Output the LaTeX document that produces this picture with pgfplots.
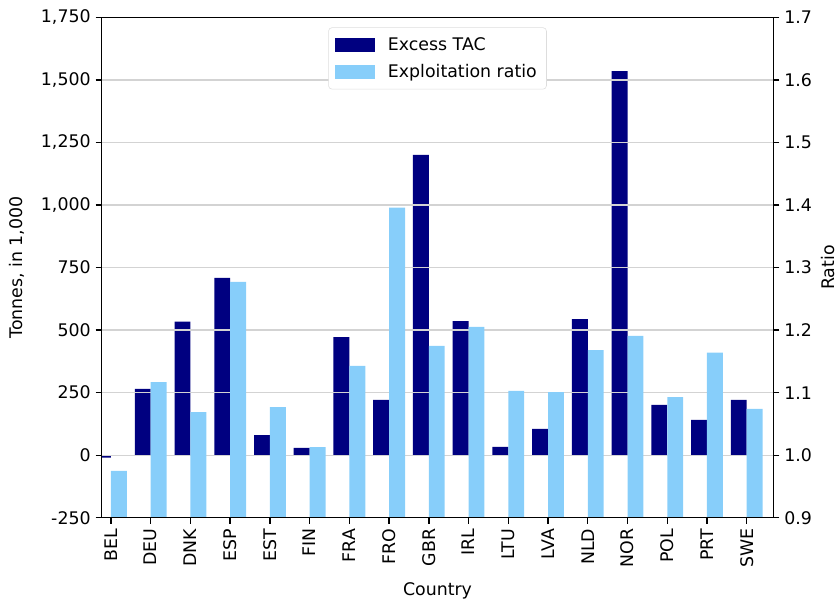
\documentclass[border=0pt]{standalone}
\usepackage{pgfplots}
\pgfplotsset{compat=1.18}
\usepackage{pgfplotstable}
\usepackage{fontspec}
\setmainfont{DejaVu Sans}
\definecolor{navyc}{HTML}{000080}
\definecolor{skyc}{HTML}{87CEFA}
\definecolor{gridc}{HTML}{D3D3D3}
\definecolor{legc}{HTML}{DDDDDD}

\pgfplotstableread{
country x navy ratio
BEL 0 -10 0.975
DEU 1 265 1.117
DNK 2 534 1.069
ESP 3 709 1.277
EST 4 80 1.077
FIN 5 29 1.013
FRA 6 472 1.143
FRO 7 221 1.396
GBR 8 1200 1.175
IRL 9 536 1.205
LTU 10 33 1.103
LVA 11 105 1.101
NLD 12 544 1.168
NOR 13 1535 1.191
POL 14 201 1.093
PRT 15 141 1.164
SWE 16 221 1.074
}\data

\pgfplotsset{
  common/.style={
    scale only axis, width=483.6pt, height=360.3pt,
    xmin=-0.234, xmax=16.67,
    tick align=outside, major tick length=4.4pt,
    axis line style={line width=1pt},
    every tick/.style={black, line width=1pt},
    tick label style={font=\fontsize{12.5}{15}\selectfont},
    label style={font=\fontsize{12.5}{15}\selectfont},
    /pgf/number format/assume math mode=true,
    axis on top,
    ybar, bar width=0.4, bar shift=0pt,
  }
}

\begin{document}
\begin{tikzpicture}
\begin{axis}[common, name=main,
  ymin=-250, ymax=1750,
  ytick={-250,0,250,500,750,1000,1250,1500,1750},
  yticklabels={-250,0,250,500,750,{1,000},{1,250},{1,500},{1,750}},
  xtick={0,...,16},
  xticklabels={BEL,DEU,DNK,ESP,EST,FIN,FRA,FRO,GBR,IRL,LTU,LVA,NLD,NOR,POL,PRT,SWE},
  xticklabel style={rotate=90, anchor=east},
  xtick pos=bottom, ytick pos=left,
  ymajorgrids, grid style={gridc, line width=1pt},
  ylabel={Tonnes, in 1,000}, xlabel={Country},
  ylabel style={yshift=5.2pt},
  xlabel style={yshift=-3.8pt},
]
\addplot[fill=navyc, draw=none] table[x expr=\thisrow{x}-0.2, y=navy]{\data};
\end{axis}
\begin{axis}[common,
  ymin=0.9, ymax=1.7,
  ytick={0.9,1.0,1.1,1.2,1.3,1.4,1.5,1.6,1.7},
  yticklabel style={/pgf/number format/.cd, fixed, fixed zerofill, precision=1},
  xtick=\empty, ytick pos=right, yticklabel pos=right,
  ylabel={Ratio},
  legend style={at={(0.5,0.98)}, anchor=north, draw=legc, rounded corners=2.5pt,
    fill=white, font=\fontsize{12.5}{15}\selectfont, row sep=4.5pt, inner sep=5pt,
    /tikz/every odd column/.append style={column sep=7pt}},
  legend cell align=left,
]
\addlegendimage{fill=navyc, draw=none, legend image code/.code={\fill[navyc, sharp corners] (0pt,-5pt) rectangle (28.8pt,5pt);}}
\addlegendentry{Excess TAC}
\addplot[fill=skyc, draw=none, legend image code/.code={\fill[skyc, sharp corners] (0pt,-5pt) rectangle (28.8pt,5pt);}] table[x expr=\thisrow{x}+0.2, y=ratio]{\data};
\addlegendentry{Exploitation ratio}
\end{axis}
\pgfresetboundingbox
\useasboundingbox ([xshift=-73.2pt,yshift=-58.5pt]main.south west) rectangle ([xshift=48pt,yshift=12.5pt]main.north east);
\end{tikzpicture}
\end{document}
